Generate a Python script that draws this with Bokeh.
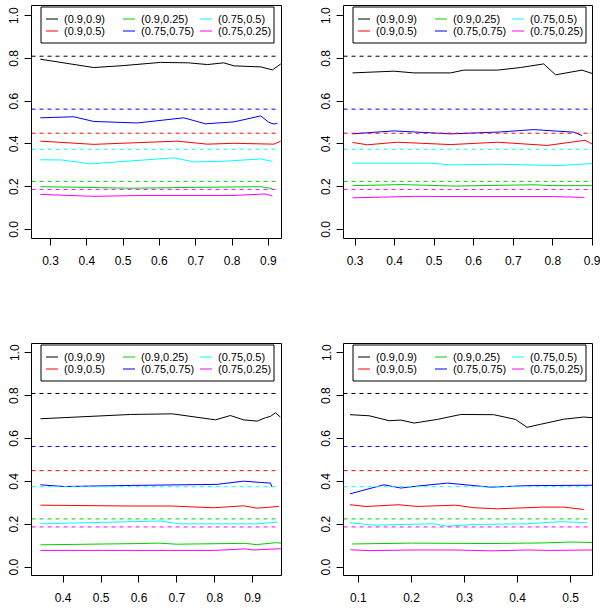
from bokeh.plotting import figure
from bokeh.models import Range1d, FixedTicker, PrintfTickFormatter, BoxAnnotation, Label
from bokeh.layouts import column, row
from bokeh.embed import file_html
from bokeh.resources import INLINE

# ---------------- data ----------------
labels = ["(0.9,0.9)", "(0.9,0.5)", "(0.9,0.25)", "(0.75,0.75)", "(0.75,0.5)", "(0.75,0.25)"]
colors = ["black", "red", "#00CD00", "blue", "cyan", "magenta"]
truth = [0.81, 0.45, 0.225, 0.5625, 0.375, 0.1875]

# panel A (top left)
a_x_black = [0.272, 0.419, 0.50, 0.603, 0.68, 0.732, 0.777, 0.805, 0.879, 0.911, 0.934]
a_y_black = [0.796, 0.757, 0.766, 0.781, 0.779, 0.771, 0.779, 0.765, 0.760, 0.746, 0.774]
a_x_red = [0.272, 0.419, 0.649, 0.732, 0.805, 0.915, 0.934]
a_y_red = [0.413, 0.398, 0.413, 0.399, 0.403, 0.399, 0.413]
a_x_green = [0.272, 0.40, 0.52, 0.70, 0.88, 0.911]
a_y_green = [0.200, 0.197, 0.193, 0.197, 0.200, 0.191]
a_x_blue = [0.272, 0.364, 0.419, 0.539, 0.667, 0.727, 0.805, 0.879, 0.901, 0.915, 0.925]
a_y_blue = [0.522, 0.527, 0.505, 0.498, 0.522, 0.494, 0.503, 0.531, 0.501, 0.493, 0.497]
a_x_cyan = [0.272, 0.33, 0.410, 0.640, 0.695, 0.777, 0.879, 0.911]
a_y_cyan = [0.326, 0.325, 0.307, 0.335, 0.316, 0.319, 0.330, 0.318]
a_x_magenta = [0.272, 0.42, 0.55, 0.80, 0.89, 0.911]
a_y_magenta = [0.164, 0.155, 0.159, 0.159, 0.166, 0.157]
a_xlim = [0.2477, 0.936]
a_truth_x = [0.2477, 0.929]
a_xticks = [0.3, 0.4, 0.5, 0.6, 0.7, 0.8, 0.9]

# panel B (top right)
b_x_black = [0.2935, 0.398, 0.449, 0.542, 0.575, 0.660, 0.718, 0.777, 0.807, 0.874, 0.9]
b_y_black = [0.732, 0.740, 0.732, 0.732, 0.745, 0.745, 0.757, 0.774, 0.723, 0.745, 0.729]
b_x_red = [0.2935, 0.331, 0.407, 0.542, 0.660, 0.786, 0.882, 0.9]
b_y_red = [0.407, 0.396, 0.408, 0.397, 0.408, 0.393, 0.417, 0.399]
b_x_green = [0.2935, 0.42, 0.55, 0.75, 0.80, 0.9]
b_y_green = [0.205, 0.210, 0.203, 0.209, 0.205, 0.205]
b_x_blue = [0.2935, 0.398, 0.542, 0.668, 0.752, 0.853, 0.874]
b_y_blue = [0.447, 0.461, 0.447, 0.456, 0.467, 0.455, 0.439]
b_x_cyan = [0.2935, 0.491, 0.542, 0.660, 0.811, 0.9]
b_y_cyan = [0.310, 0.310, 0.302, 0.305, 0.299, 0.308]
b_x_magenta = [0.2935, 0.45, 0.60, 0.80, 0.88]
b_y_magenta = [0.148, 0.155, 0.154, 0.154, 0.150]
b_xlim = [0.2707, 0.9005]
b_truth_x = [0.2707, 0.9005]
b_xticks = [0.3, 0.4, 0.5, 0.6, 0.7, 0.8, 0.9]

# panel C (bottom left)
c_x_black = [0.340, 0.578, 0.688, 0.802, 0.841, 0.876, 0.912, 0.934, 0.947, 0.960, 0.973]
c_y_black = [0.692, 0.712, 0.715, 0.687, 0.707, 0.687, 0.681, 0.697, 0.703, 0.720, 0.700]
c_x_red = [0.340, 0.578, 0.684, 0.797, 0.876, 0.912, 0.969]
c_y_red = [0.289, 0.285, 0.285, 0.277, 0.286, 0.275, 0.283]
c_x_green = [0.340, 0.60, 0.65, 0.70, 0.88, 0.91, 0.96, 0.975]
c_y_green = [0.104, 0.110, 0.112, 0.107, 0.111, 0.105, 0.114, 0.112]
c_x_blue = [0.340, 0.402, 0.578, 0.806, 0.876, 0.921, 0.947, 0.951]
c_y_blue = [0.384, 0.376, 0.381, 0.386, 0.401, 0.395, 0.392, 0.373]
c_x_cyan = [0.340, 0.657, 0.705, 0.912, 0.947, 0.965]
c_y_cyan = [0.202, 0.215, 0.202, 0.202, 0.207, 0.210]
c_x_magenta = [0.340, 0.60, 0.80, 0.88, 0.90, 0.975]
c_y_magenta = [0.078, 0.078, 0.078, 0.085, 0.080, 0.086]
c_xlim = [0.3164, 0.976]
c_truth_x = [0.3164, 0.969]
c_xticks = [0.4, 0.5, 0.6, 0.7, 0.8, 0.9]

# panel D (bottom right)
d_x_black = [0.084, 0.120, 0.158, 0.180, 0.205, 0.249, 0.293, 0.355, 0.396, 0.418, 0.443, 0.487, 0.525, 0.541]
d_y_black = [0.711, 0.706, 0.683, 0.686, 0.672, 0.689, 0.712, 0.711, 0.689, 0.652, 0.666, 0.690, 0.700, 0.697]
d_x_red = [0.084, 0.114, 0.176, 0.211, 0.283, 0.318, 0.362, 0.450, 0.487, 0.525]
d_y_red = [0.291, 0.283, 0.291, 0.283, 0.289, 0.277, 0.272, 0.280, 0.280, 0.269]
d_x_green = [0.088, 0.20, 0.35, 0.45, 0.50, 0.541]
d_y_green = [0.108, 0.112, 0.110, 0.113, 0.117, 0.115]
d_x_blue = [0.084, 0.148, 0.180, 0.211, 0.268, 0.349, 0.418, 0.541]
d_y_blue = [0.342, 0.384, 0.369, 0.378, 0.392, 0.373, 0.380, 0.382]
d_x_cyan = [0.084, 0.129, 0.242, 0.268, 0.318, 0.418, 0.481, 0.531]
d_y_cyan = [0.207, 0.196, 0.202, 0.191, 0.199, 0.202, 0.212, 0.207]
d_x_magenta = [0.085, 0.12, 0.20, 0.28, 0.35, 0.42, 0.46, 0.541]
d_y_magenta = [0.081, 0.077, 0.080, 0.080, 0.076, 0.080, 0.078, 0.080]
d_xlim = [0.0718, 0.5414]
d_truth_x = [0.0718, 0.537]
d_xticks = [0.1, 0.2, 0.3, 0.4, 0.5]

yticks = [0.0, 0.2, 0.4, 0.6, 0.8, 1.0]

FONT = "Liberation Sans"

# legend layout (pixels, relative to the plot frame's top-left corner)
LEG_LEFT, LEG_RIGHT, LEG_TOP, LEG_BOTTOM = 9.5, 242.5, 1.5, 37.5
LEG_COL0, LEG_COL_STEP = 14.5, 77.0
LEG_ROW0, LEG_ROW_STEP = 13.5, 12.0
LEG_SEG_LEN, LEG_TEXT_GAP = 12.0, 18.0


def make_panel(xs, ys, xlim, truth_x, xticks, ylim, fw, fh, mbl, mbr, mbt, mbb):
    p = figure(frame_width=fw, frame_height=fh,
               x_range=Range1d(*xlim), y_range=Range1d(*ylim),
               output_backend="svg", toolbar_location=None,
               min_border=0, min_border_left=mbl, min_border_right=mbr,
               min_border_top=mbt, min_border_bottom=mbb,
               background_fill_color="white", border_fill_color="white")
    p.grid.visible = False
    p.outline_line_color = "black"
    p.outline_line_width = 1
    p.outline_line_alpha = 1

    for x, y, c in zip(xs, ys, colors):
        p.line(x, y, line_color=c, line_width=1)
    for t, c in zip(truth, colors):
        p.line(truth_x, [t, t], line_color=c, line_width=1, line_dash="4 4")

    for ax in (p.xaxis[0], p.yaxis[0]):
        ax.axis_line_color = None
        ax.major_tick_line_color = "black"
        ax.major_tick_in = 0
        ax.major_tick_out = 7
        ax.minor_tick_line_color = None
        ax.major_label_text_font = FONT
        ax.major_label_text_font_size = "12px"
        ax.major_label_text_color = "black"
        ax.formatter = PrintfTickFormatter(format="%.1f")
    p.xaxis[0].ticker = FixedTicker(ticks=xticks, minor_ticks=[])
    p.yaxis[0].ticker = FixedTicker(ticks=yticks, minor_ticks=[])
    p.xaxis[0].major_label_standoff = 10
    p.yaxis[0].major_label_standoff = 6
    p.yaxis[0].major_label_orientation = "vertical"

    # ---- legend (R style, 3 columns filled column-wise) ----
    def px2x(px):
        return xlim[0] + px / fw * (xlim[1] - xlim[0])

    def py2y(py):
        return ylim[1] - py / fh * (ylim[1] - ylim[0])

    p.add_layout(BoxAnnotation(left=px2x(LEG_LEFT), right=px2x(LEG_RIGHT),
                               top=py2y(LEG_TOP), bottom=py2y(LEG_BOTTOM),
                               fill_color="white", fill_alpha=1,
                               line_color="black", line_width=1, line_alpha=1))
    sx0, sx1, sy = [], [], []
    for i, lab in enumerate(labels):
        col, rw = i // 2, i % 2
        x0 = LEG_COL0 + col * LEG_COL_STEP
        yy = LEG_ROW0 + rw * LEG_ROW_STEP
        sx0.append(px2x(x0))
        sx1.append(px2x(x0 + LEG_SEG_LEN))
        sy.append(py2y(yy))
        p.add_layout(Label(x=px2x(x0 + LEG_TEXT_GAP), y=py2y(yy - 0.5), text=lab,
                           text_font=FONT, text_font_size="11px",
                           text_color="black", text_align="left",
                           text_baseline="middle"))
    p.segment(x0=sx0, y0=sy, x1=sx1, y1=sy, line_color=colors, line_width=1,
              level="overlay")
    return p


pA = make_panel([a_x_black, a_x_red, a_x_green, a_x_blue, a_x_cyan, a_x_magenta],
                [a_y_black, a_y_red, a_y_green, a_y_blue, a_y_cyan, a_y_magenta],
                a_xlim, a_truth_x, a_xticks, (-0.042, 1.047), 250, 233, 31, 19, 5, 105)
pB = make_panel([b_x_black, b_x_red, b_x_green, b_x_blue, b_x_cyan, b_x_magenta],
                [b_y_black, b_y_red, b_y_green, b_y_blue, b_y_cyan, b_y_magenta],
                b_xlim, b_truth_x, b_xticks, (-0.042, 1.047), 249, 233, 43, 8, 5, 105)
pC = make_panel([c_x_black, c_x_red, c_x_green, c_x_blue, c_x_cyan, c_x_magenta],
                [c_y_black, c_y_red, c_y_green, c_y_blue, c_y_cyan, c_y_magenta],
                c_xlim, c_truth_x, c_xticks, (-0.039, 1.043), 250, 232, 31, 19, 0, 0)
pD = make_panel([d_x_black, d_x_red, d_x_green, d_x_blue, d_x_cyan, d_x_magenta],
                [d_y_black, d_y_red, d_y_green, d_y_blue, d_y_cyan, d_y_magenta],
                d_xlim, d_truth_x, d_xticks, (-0.039, 1.043), 249, 232, 43, 8, 0, 0)

layout = column(row(pA, pB), row(pC, pD))

open("out.html", "w").write(file_html(layout, INLINE))
